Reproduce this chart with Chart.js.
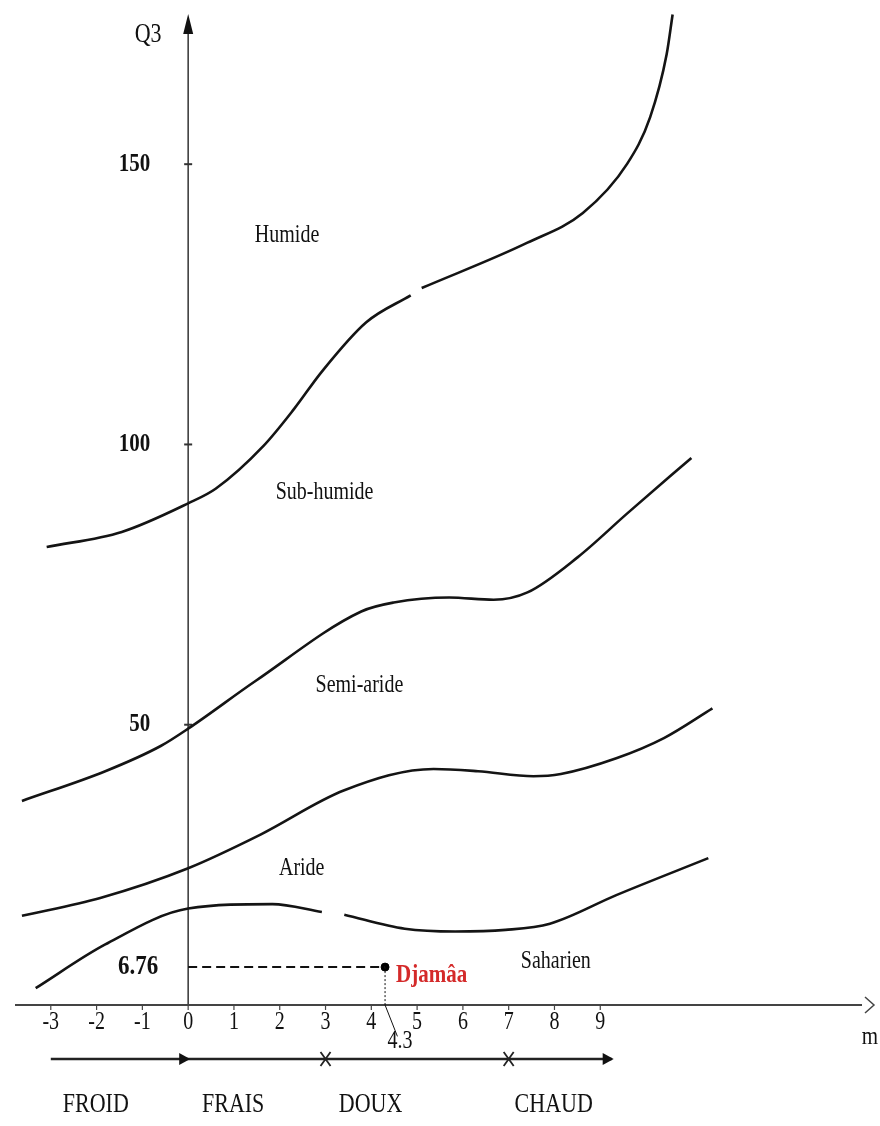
<!DOCTYPE html>
<html>
<head>
<meta charset="utf-8">
<script src="https://cdn.jsdelivr.net/npm/chart.js@4.4.1/dist/chart.umd.min.js"></script>
<style>
  html, body { margin: 0; padding: 0; background: #fff; }
  #wrap { width: 880px; height: 1126px; }
</style>
</head>
<body>
<div id="wrap"><canvas id="climagramme" width="880" height="1126"></canvas></div>
<script>
// limites des étages bioclimatiques (m en °C, Q3)
const limHumide = [
  {x: -3.09, y: 81.7}, {x: -1.45, y: 84.4}, {x: 0, y: 89.5}, {x: 0.6, y: 92.1},
  {x: 1.64, y: 99.7}, {x: 2.31, y: 106.3}, {x: 2.92, y: 113.0}, {x: 3.89, y: 121.8},
  {x: 4.86, y: 126.6}, {x: 4.98, y: null}, {x: 5.1, y: 127.9}, {x: 7.41, y: 136.0},
  {x: 8.62, y: 141.3}, {x: 9.59, y: 150.1}, {x: 10.09, y: 158.4}, {x: 10.45, y: 169.6},
  {x: 10.58, y: 176.7}
];
const limSubHumide = [
  {x: -3.63, y: 36.4}, {x: -1.81, y: 41.7}, {x: -0.6, y: 46.2}, {x: 0, y: 49.3},
  {x: 1.47, y: 57.8}, {x: 3.78, y: 70.2}, {x: 4.49, y: 71.8}, {x: 5.7, y: 72.7},
  {x: 6.67, y: 72.3}, {x: 7.41, y: 73.6}, {x: 8.51, y: 79.9}, {x: 9.59, y: 87.7},
  {x: 10.99, y: 97.6}
];
const limSemiAride = [
  {x: -3.63, y: 15.9}, {x: -1.92, y: 19.1}, {x: 0, y: 24.4}, {x: 1.58, y: 30.4},
  {x: 3.41, y: 38.3}, {x: 5.36, y: 42.1}, {x: 6.33, y: 41.7}, {x: 7.54, y: 40.8},
  {x: 8.14, y: 41.2}, {x: 9.35, y: 44.0}, {x: 10.39, y: 47.6}, {x: 11.45, y: 52.9}
];
const limAride = [
  {x: -3.33, y: 3.0}, {x: -1.81, y: 10.8}, {x: 0, y: 17.2}, {x: 1.84, y: 18.0},
  {x: 2.92, y: 16.6}, {x: 3.15, y: null}, {x: 3.41, y: 16.1}, {x: 4.73, y: 13.6},
  {x: 5.83, y: 13.1}, {x: 6.93, y: 13.4}, {x: 7.9, y: 14.5}, {x: 9.35, y: 19.6},
  {x: 11.36, y: 26.2}
];

const station = 'Djamâa';
const stationM = 4.3;
const stationQ = 6.76;

const xTicks = [-3, -2, -1, 0, 1, 2, 3, 4, 5, 6, 7, 8, 9];
const yTicks = [50, 100, 150];
const etages = ['Humide', 'Sub-humide', 'Semi-aride', 'Aride', 'Saharien'];
const hivers = ['FROID', 'FRAIS', 'DOUX', 'CHAUD'];
const hiverBornes = [-3, 0, 3, 7, 9.25];

// positions des étiquettes d'étages (m, Q3)
const etagePos = [[2.16, 137.2], [2.98, 91.4], [3.74, 56.9], [2.48, 24.4], [8.03, 7.8]];

const SERIF = '"Liberation Serif", "DejaVu Serif", serif';
const SY = 1.22;

function txt(ctx, s, x, y, font, color, align) {
  ctx.save();
  ctx.font = font;
  ctx.fillStyle = color || '#111';
  ctx.textAlign = align || 'center';
  ctx.textBaseline = 'middle';
  ctx.translate(x, y);
  ctx.scale(1, SY);
  ctx.fillText(s, 0, 0);
  ctx.restore();
}

function tri(ctx, pts) {
  ctx.beginPath();
  ctx.moveTo(pts[0][0], pts[0][1]);
  ctx.lineTo(pts[1][0], pts[1][1]);
  ctx.lineTo(pts[2][0], pts[2][1]);
  ctx.closePath();
  ctx.fill();
}

const axesPlugin = {
  id: 'axes',
  beforeDatasetsDraw(chart) {
    const ctx = chart.ctx;
    const xs = chart.scales.x, ys = chart.scales.y;
    const x0 = xs.getPixelForValue(0);
    const y0 = ys.getPixelForValue(0);
    ctx.save();
    ctx.strokeStyle = '#333';
    ctx.fillStyle = '#111';
    // axe des Q3
    ctx.lineWidth = 1.5;
    ctx.beginPath();
    ctx.moveTo(x0, y0);
    ctx.lineTo(x0, 22);
    ctx.stroke();
    tri(ctx, [[x0, 14], [x0 - 5, 34], [x0 + 5, 34]]);
    yTicks.forEach(v => {
      const y = ys.getPixelForValue(v);
      ctx.lineWidth = 2;
      ctx.beginPath();
      ctx.moveTo(x0 - 4, y);
      ctx.lineTo(x0 + 4, y);
      ctx.stroke();
    });
    // axe des m
    ctx.strokeStyle = '#444';
    ctx.lineWidth = 2;
    ctx.beginPath();
    ctx.moveTo(15, y0);
    ctx.lineTo(862, y0);
    ctx.stroke();
    ctx.lineWidth = 1.2;
    xTicks.forEach(v => {
      const x = xs.getPixelForValue(v);
      ctx.beginPath();
      ctx.moveTo(x, y0);
      ctx.lineTo(x, y0 + 5);
      ctx.stroke();
    });
    ctx.lineWidth = 1.5;
    ctx.beginPath();
    ctx.moveTo(865, y0 - 8);
    ctx.lineTo(874, y0);
    ctx.lineTo(865, y0 + 8);
    ctx.stroke();
    ctx.restore();
  },
  afterDatasetsDraw(chart) {
    const ctx = chart.ctx;
    const xs = chart.scales.x, ys = chart.scales.y;
    const x0 = xs.getPixelForValue(0);
    const y0 = ys.getPixelForValue(0);

    txt(ctx, 'Q3', x0 - 40, 35, '22px ' + SERIF);
    yTicks.forEach(v => {
      txt(ctx, String(v), x0 - 38, ys.getPixelForValue(v), 'bold 21px ' + SERIF, '#111', 'right');
    });
    xTicks.forEach(v => {
      txt(ctx, String(v), xs.getPixelForValue(v), y0 + 18, '20px ' + SERIF);
    });
    txt(ctx, 'm', 870, y0 + 32, '21px ' + SERIF);

    etages.forEach((e, i) => {
      txt(ctx, e, xs.getPixelForValue(etagePos[i][0]), ys.getPixelForValue(etagePos[i][1]), '20px ' + SERIF);
    });

    // station
    const sx = xs.getPixelForValue(stationM), sy = ys.getPixelForValue(stationQ);
    txt(ctx, String(stationQ), x0 - 30, sy, 'bold 23px ' + SERIF, '#111', 'right');
    txt(ctx, station, sx + 11, sy + 8, 'bold 21px ' + SERIF, '#d42a2a', 'left');
    txt(ctx, String(stationM), sx + 15, y0 + 37, '20px ' + SERIF);

    // saisons d'hiver
    const ay = y0 + 54;
    ctx.save();
    ctx.strokeStyle = '#222';
    ctx.fillStyle = '#111';
    ctx.lineWidth = 2.5;
    ctx.beginPath();
    ctx.moveTo(xs.getPixelForValue(hiverBornes[0]), ay);
    ctx.lineTo(xs.getPixelForValue(hiverBornes[hiverBornes.length - 1]), ay);
    ctx.stroke();
    ctx.lineWidth = 1.8;
    hiverBornes.forEach((b, i) => {
      const bx = xs.getPixelForValue(b);
      if (i === 1 || i === hiverBornes.length - 1) {
        tri(ctx, [[bx + 2, ay], [bx - 9, ay - 6], [bx - 9, ay + 6]]);
      } else if (i > 1) {
        ctx.beginPath();
        ctx.moveTo(bx - 5, ay - 7); ctx.lineTo(bx + 5, ay + 7);
        ctx.moveTo(bx - 5, ay + 7); ctx.lineTo(bx + 5, ay - 7);
        ctx.stroke();
      }
    });
    ctx.restore();
    hivers.forEach((h, i) => {
      txt(ctx, h, xs.getPixelForValue(hiverBornes[i]) + 45, ay + 46, '22px ' + SERIF);
    });
  }
};

const courbe = (data) => ({
  data: data,
  showLine: true,
  borderColor: '#141414',
  borderWidth: 2.6,
  pointRadius: 0,
  tension: 0.4,
  cubicInterpolationMode: 'monotone',
  spanGaps: false
});

new Chart(document.getElementById('climagramme'), {
  type: 'scatter',
  data: {
    datasets: [
      courbe(limHumide),
      courbe(limSubHumide),
      courbe(limSemiAride),
      courbe(limAride),
      {
        data: [{x: 0, y: stationQ}, {x: stationM, y: stationQ}],
        showLine: true, borderColor: '#111', borderWidth: 2,
        borderDash: [9, 5], pointRadius: 0
      },
      {
        data: [{x: stationM, y: stationQ}, {x: stationM, y: 0}],
        showLine: true, borderColor: '#111', borderWidth: 1,
        borderDash: [2, 2], pointRadius: 0
      },
      {
        data: [{x: stationM, y: 0}, {x: stationM + 0.27, y: -5.6}],
        showLine: true, borderColor: '#111', borderWidth: 1, pointRadius: 0
      },
      {
        data: [{x: stationM, y: stationQ}],
        backgroundColor: '#000', borderColor: '#000', pointRadius: 4
      }
    ]
  },
  options: {
    responsive: false,
    animation: false,
    layout: { padding: 0 },
    plugins: { legend: { display: false }, tooltip: { enabled: false } },
    scales: {
      x: { type: 'linear', min: -4, max: 15, display: false },
      y: { type: 'linear', min: -20.7, max: 178.4, display: false }
    }
  },
  plugins: [axesPlugin]
});
</script>
</body>
</html>
